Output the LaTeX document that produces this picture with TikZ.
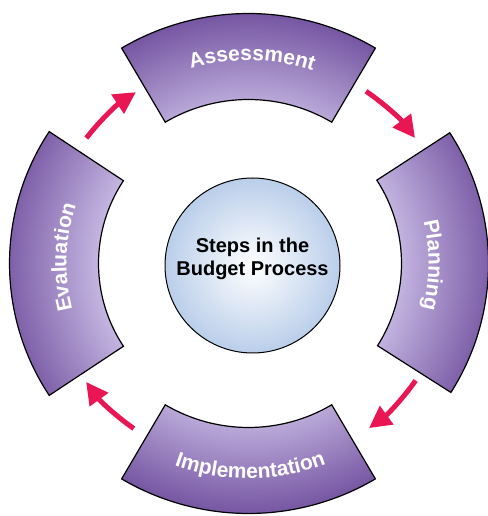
\documentclass[tikz,border=0pt]{standalone}
\usepackage{fontspec}
\newfontfamily\hv{Liberation Sans}
\usetikzlibrary{arrows.meta,decorations.text}
\definecolor{segdark}{RGB}{118,86,162}
\definecolor{seglight}{RGB}{200,186,228}
\definecolor{arrowred}{RGB}{234,22,84}
\definecolor{circblue}{RGB}{186,206,234}
\pgfdeclareradialshading{ringshade}{\pgfpoint{0bp}{0bp}}{color(0bp)=(seglight); color(14.5bp)=(seglight); color(25bp)=(segdark); color(50bp)=(segdark)}
\begin{document}
\begin{tikzpicture}[x=1pt,y=1pt,
  segline/.style={draw=black, line width=1.2pt, line join=miter},
  flow/.style={draw=arrowred, line width=5pt, -{Triangle[length=22pt,width=22pt]}},
  ringtext/.style={decorate, decoration={text along path, text align=center, text color=white,
      text={|\hv\bfseries\fontsize{21}{21}\selectfont|#1}}},
  coretext/.style={align=center, inner sep=0pt, font=\hv\bfseries\fontsize{20}{23}\selectfont}
]
\useasboundingbox (0,0) rectangle (487,516);
\begin{scope}[shift={(248.5,252.5)}]
  \coordinate (ctr) at (0,0);
  % ring segments
  \foreach \a/\b/\R/\r in {59.5/120.5/250/164, 146.5/213.5/239/150, 239.5/300.5/250/164, -32.5/33/240/153}{
    \begin{scope}
      \clip (\a:\R) arc[start angle=\a, end angle=\b, radius=\R] -- (\b:\r) arc[start angle=\b, end angle=\a, radius=\r] -- cycle;
      \shade[shading=ringshade] (ctr) circle[radius=250];
    \end{scope}
    \draw[segline] (\a:\R) arc[start angle=\a, end angle=\b, radius=\R] -- (\b:\r) arc[start angle=\b, end angle=\a, radius=\r] -- cycle;
  }
  % segment labels
  \path[ringtext=Assessment] (125:203) arc[start angle=125, end angle=53, radius=203];
  \path[ringtext=Planning] (35:180) arc[start angle=35, end angle=-36, radius=180];
  \path[ringtext=Implementation] (235:215) arc[start angle=235, end angle=306, radius=215];
  \path[ringtext=Evaluation] (213:182) arc[start angle=213, end angle=143, radius=182];
  % arrows
  \coordinate (evalout) at (142.3:205);
  \coordinate (assessout) at (55.7:208.5);
  \coordinate (planout) at (-35:204);
  \coordinate (implout) at (235.2:201);
  \draw[flow] (evalout) arc[start angle=142.3, end angle=123.3, radius=205];
  \draw[flow] (assessout) arc[start angle=55.7, end angle=37, radius=208.5];
  \draw[flow] (planout) arc[start angle=-35, end angle=-53.8, radius=204];
  \draw[flow] (implout) arc[start angle=235.2, end angle=216.1, radius=201];
  % centre
  \node[circle, draw=black, line width=1pt, minimum size=175pt, inner sep=0pt,
        shade, inner color=white, outer color=circblue] (core) at (4,-2) {};
  \node[coretext] (title) at (4,4.3) {Steps in the\\Budget Process};
\end{scope}
\end{tikzpicture}
\end{document}
